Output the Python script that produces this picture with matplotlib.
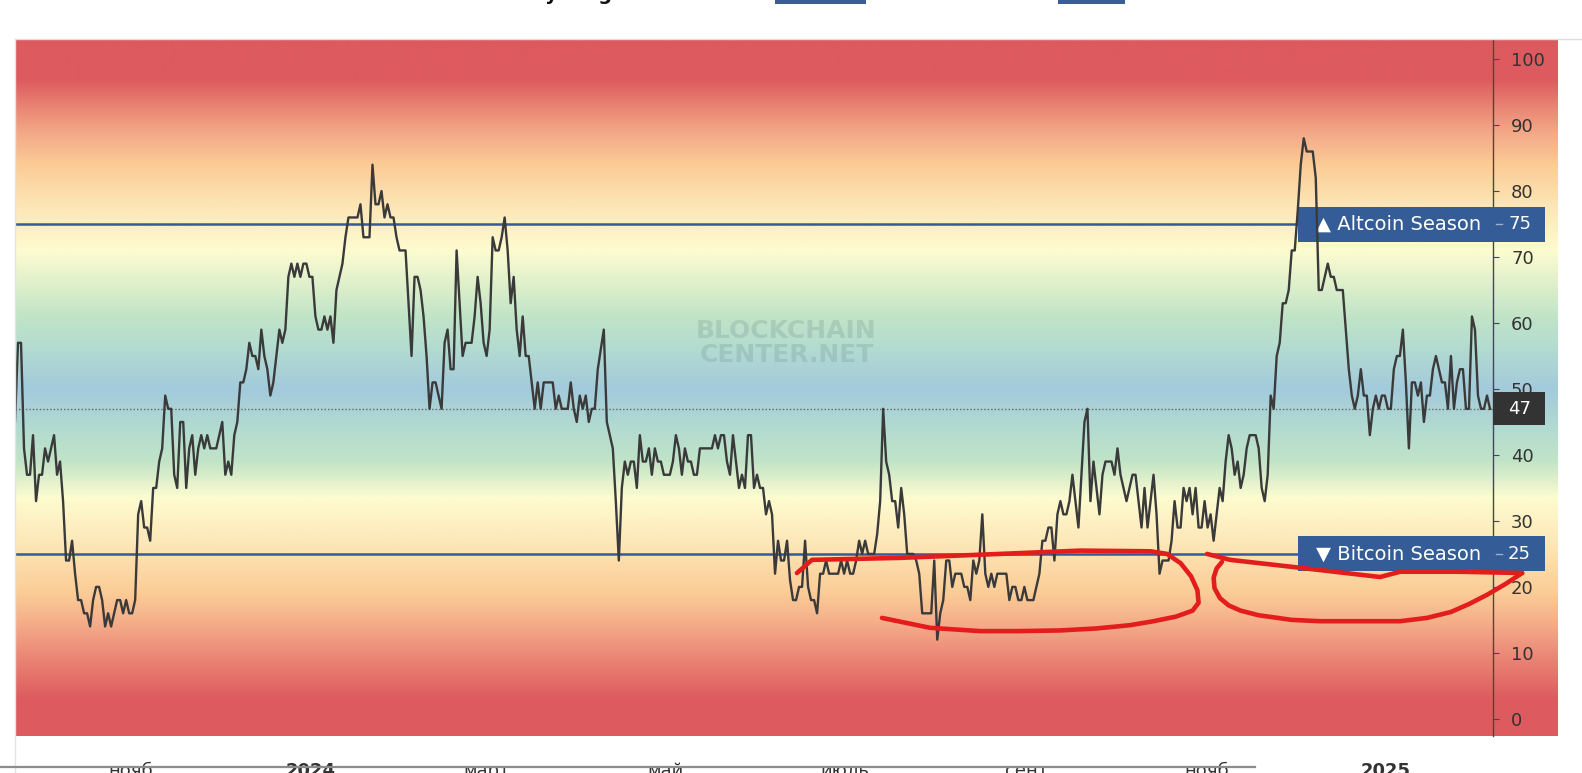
import numpy as np
import pandas as pd
import matplotlib
matplotlib.use('Agg')
import matplotlib.pyplot as plt
import matplotlib.dates as mdates
from matplotlib.patches import Rectangle
from matplotlib.lines import Line2D

# index readings, evenly spaced from first_date to last_date
first_date = '2023-09-22 12:00'
last_date = '2025-02-05 14:00'
index_values = [
    45, 57, 57, 41, 37, 37, 43, 33, 37, 37,
    41, 39, 41, 43, 37, 39, 33, 24, 24, 27,
    22, 18, 18, 16, 16, 14, 18, 20, 20, 18,
    14, 16, 14, 16, 18, 18, 16, 18, 16, 16,
    18, 31, 33, 29, 29, 27, 35, 35, 39, 41,
    49, 47, 47, 37, 35, 45, 45, 35, 41, 43,
    37, 41, 43, 41, 43, 41, 41, 41, 43, 45,
    37, 39, 37, 43, 45, 51, 51, 53, 57, 55,
    55, 53, 59, 55, 53, 49, 51, 55, 59, 57,
    59, 67, 69, 67, 69, 67, 69, 69, 67, 67,
    61, 59, 59, 61, 59, 61, 57, 65, 67, 69,
    73, 76, 76, 76, 76, 78, 73, 73, 73, 84,
    78, 78, 80, 76, 78, 76, 76, 73, 71, 71,
    71, 63, 55, 67, 67, 65, 61, 55, 47, 51,
    51, 49, 47, 57, 59, 53, 53, 71, 63, 55,
    57, 57, 57, 61, 67, 63, 57, 55, 59, 73,
    71, 71, 73, 76, 71, 63, 67, 59, 55, 61,
    55, 55, 51, 47, 51, 47, 51, 51, 51, 51,
    47, 49, 47, 47, 47, 51, 47, 45, 49, 47,
    49, 45, 47, 47, 53, 56, 59, 45, 43, 41,
    33, 24, 35, 39, 37, 39, 39, 35, 43, 39,
    39, 41, 37, 41, 39, 39, 37, 37, 37, 39,
    43, 41, 37, 41, 39, 39, 37, 37, 41, 41,
    41, 41, 41, 43, 41, 43, 43, 39, 37, 43,
    39, 35, 37, 35, 43, 43, 35, 37, 35, 35,
    31, 33, 31, 22, 27, 24, 24, 27, 21, 18,
    18, 20, 20, 27, 20, 18, 18, 16, 22, 22,
    24, 22, 22, 22, 22, 24, 22, 24, 22, 22,
    24, 27, 25, 27, 25, 25, 25, 28, 33, 47,
    39, 37, 33, 33, 29, 35, 31, 25, 25, 25,
    24, 22, 16, 16, 16, 16, 24, 12, 16, 18,
    24, 24, 20, 22, 22, 22, 20, 20, 18, 24,
    22, 24, 31, 22, 20, 22, 20, 22, 22, 22,
    22, 18, 20, 20, 18, 18, 20, 18, 18, 18,
    20, 22, 27, 27, 29, 29, 24, 31, 33, 31,
    31, 33, 37, 33, 29, 37, 45, 47, 33, 39,
    35, 31, 37, 39, 39, 39, 37, 41, 37, 35,
    33, 35, 37, 37, 33, 29, 35, 29, 33, 37,
    31, 22, 24, 24, 24, 27, 33, 29, 29, 35,
    33, 35, 31, 35, 29, 29, 33, 29, 31, 27,
    31, 35, 33, 39, 43, 41, 37, 39, 35, 37,
    41, 43, 43, 43, 41, 35, 33, 37, 49, 47,
    55, 57, 63, 63, 65, 71, 71, 77, 84, 88,
    86, 86, 86, 82, 65, 65, 67, 69, 67, 67,
    65, 65, 65, 59, 53, 49, 47, 49, 53, 49,
    49, 43, 47, 49, 47, 49, 49, 47, 47, 53,
    55, 55, 59, 51, 41, 51, 51, 49, 51, 45,
    49, 49, 53, 55, 53, 51, 51, 47, 55, 47,
    51, 53, 53, 47, 47, 61, 59, 49, 47, 47,
    49, 47,
]

tick_dates = ['2023-11-01', '2024-01-01', '2024-03-01', '2024-05-01',
              '2024-07-01', '2024-09-01', '2024-11-01', '2025-01-01']
tick_labels = ['нояб', '2024', 'март', 'май', 'июль', 'сент', 'нояб', '2025']
year_labels = ['2024', '2025']

y_ticks = [0, 10, 20, 30, 40, 50, 60, 70, 80, 90, 100]
altcoin_level = 75
bitcoin_level = 25
current_value = 47

# red freehand marks drawn over the screenshot (position in samples, index value)
mark1_pos = [260.3, 265.3, 294.6, 327.9, 354.5, 378.0, 383.5, 388.0, 391.5, 393.6, 394.0,
             392.0, 386.5, 379.0, 371.2, 360.0, 347.9, 334.0, 321.2, 304.6, 288.6]
mark1_vals = [22.1, 24.1, 24.4, 25.0, 25.5, 25.4, 25.0, 23.6, 21.6, 19.5, 17.6,
              16.4, 15.5, 14.8, 14.2, 13.7, 13.4, 13.3, 13.3, 13.8, 15.3]
mark2_pos = [396.8, 404.5, 427.8, 454.4, 461.1, 481.0, 501.7]
mark2_vals = [25.0, 24.1, 22.9, 21.5, 22.3, 22.3, 22.1]
mark3_pos = [401.8, 400.0, 399.0, 399.3, 401.1, 404.0, 408.0, 414.0, 425.0, 434.4, 461.1,
             470.0, 478.0, 484.0, 490.0, 496.0, 501.7]
mark3_vals = [23.8, 22.8, 21.4, 19.8, 18.3, 17.2, 16.4, 15.7, 15.0, 14.8, 14.8,
              15.3, 16.2, 17.4, 18.8, 20.4, 22.1]

# background gradient stops (value, colour)
grad_vals = [-3, 3, 9, 14, 19, 26, 33.5, 39, 44, 50, 56, 61, 71, 78, 84, 89, 92, 97, 103]
grad_cols = ['#dd5a5e', '#de5b5f', '#ea8474', '#f4aa88', '#fbcc96', '#fde5b5', '#fdfcd0',
             '#c1e4c7', '#b2dbd1', '#a3cadb', '#b2dbd1', '#c1e4c7', '#fdfcd0', '#fde5b5',
             '#fbcc96', '#f3a888', '#ec8c78', '#dd5a5e', '#dd5a5e']


def main():
    W, H = 1582, 773
    ymin, ymax = -2.6, 102.9
    fig = plt.figure(figsize=(W / 100, H / 100), dpi=100)
    plt.rcParams['font.family'] = ['DejaVu Sans']

    # gradient background (runs a bit past the right axis)
    bg = fig.add_axes([15 / W, 37 / H, (1558 - 15) / W, 696 / H])
    vv = np.linspace(ymin, ymax, 700)
    rgb = np.array([matplotlib.colors.to_rgb(c) for c in grad_cols])
    img = np.zeros((len(vv), 2, 3))
    for ch in range(3):
        img[:, :, ch] = np.interp(vv, grad_vals, rgb[:, ch])[:, None]
    bg.imshow(img, origin='lower', extent=[0, 1, ymin, ymax], aspect='auto',
              interpolation='bilinear')
    bg.set_xlim(0, 1)
    bg.set_ylim(ymin, ymax)
    bg.axis('off')

    ax = fig.add_axes([15 / W, 37 / H, 1478 / W, 696 / H])
    ax.set_facecolor('none')

    dates = pd.date_range(first_date, last_date, periods=len(index_values))
    xs = mdates.date2num(dates.to_pydatetime())
    step = (xs[-1] - xs[0]) / (len(xs) - 1)

    ax.axhline(altcoin_level, color='#36599a', lw=1.8, zorder=2)
    ax.axhline(bitcoin_level, color='#36599a', lw=1.8, zorder=2)
    ax.axhline(current_value, color='#666666', lw=1.0, ls=(0, (1, 1.5)), zorder=2)

    ytr = ax.get_yaxis_transform()
    box_l = (1298 - 15) / 1478
    box_r = (1545 - 15) / 1478
    for lvl, name in [(altcoin_level, '\u25b2 Altcoin Season'), (bitcoin_level, '\u25bc Bitcoin Season')]:
        ax.add_patch(Rectangle((box_l, lvl - 2.65), box_r - box_l, 5.3, transform=ytr,
                               fc='#345c96', ec='none', clip_on=False, zorder=3))
        ax.text(box_l + 0.012, lvl, name, transform=ytr, color='white', fontsize=14,
                va='center', ha='left', zorder=4, clip_on=False)
        ax.text(1.0102, lvl, str(lvl), transform=ytr, color='white', fontsize=13,
                va='center', ha='left', zorder=4, clip_on=False)
        ax.plot([1.002, 1.006], [lvl, lvl], transform=ytr, color='#9fb0cc', lw=1,
                clip_on=False, zorder=4)

    ax.add_patch(Rectangle((1.0, current_value - 2.5), box_r - 1.0, 5.0, transform=ytr,
                           fc='#333333', ec='none', clip_on=False, zorder=3))
    ax.text(1.0102, current_value, str(current_value), transform=ytr, color='white',
            fontsize=13, va='center', ha='left', zorder=4, clip_on=False)

    ax.text(0.522, 58.8, 'BLOCKCHAIN', transform=ytr, ha='center', va='center',
            fontsize=18, fontweight='bold', color='#6e8f88', alpha=0.25, zorder=1)
    ax.text(0.522, 55.2, 'CENTER.NET', transform=ytr, ha='center', va='center',
            fontsize=18, fontweight='bold', color='#6e8f88', alpha=0.25, zorder=1)

    ax.plot(xs, index_values, color='#3a3a3a', lw=1.7, zorder=5)

    for pos, vals in [(mark1_pos, mark1_vals), (mark2_pos, mark2_vals), (mark3_pos, mark3_vals)]:
        ax.plot(xs[0] + np.array(pos) * step, vals, color='#e41c1c', lw=3.3,
                solid_capstyle='round', solid_joinstyle='round', clip_on=False, zorder=6)

    ax.set_xlim(xs[0], xs[-1] + step)
    ax.set_ylim(ymin, ymax)

    for s in ['left', 'top', 'bottom']:
        ax.spines[s].set_visible(False)
    ax.spines['right'].set_color('#44445a')
    ax.spines['right'].set_linewidth(1.0)
    ax.yaxis.tick_right()
    ax.set_yticks(y_ticks)
    ax.tick_params(axis='y', direction='out', length=4, color='#44445a', labelsize=13,
                   labelcolor='#333333', pad=9)

    ax.set_xticks(mdates.date2num(pd.to_datetime(tick_dates).to_pydatetime()))
    ax.set_xticklabels(tick_labels)
    ax.tick_params(axis='x', length=0, labelsize=13, labelcolor='#333333', pad=19)
    for lab in ax.get_xticklabels():
        if lab.get_text() in year_labels:
            lab.set_fontweight('bold')

    # page bits around the chart
    fig.add_artist(Line2D([15 / W, 1], [1 - 39 / H] * 2, color='#dddddd', lw=1))
    fig.add_artist(Line2D([15 / W] * 2, [0, 1 - 39 / H], color='#e3e3e3', lw=1))
    fig.add_artist(Line2D([0, 1255 / W], [6 / H] * 2, color='#8c8c8c', lw=1.6, zorder=10))
    fig.add_artist(Rectangle((775 / W, 1 - 4 / H), 91 / W, 4 / H, transform=fig.transFigure,
                             fc='#3a5f98', ec='none'))
    fig.add_artist(Rectangle((1058 / W, 1 - 4 / H), 67 / W, 4 / H, transform=fig.transFigure,
                             fc='#3a5f98', ec='none'))
    fig.text(545 / W, 1.0, 'y      g', fontsize=14, fontweight='bold', color='#111111',
             va='baseline', ha='left')

    fig.savefig('out.png', dpi=100)


if __name__ == "__main__":
    main()
